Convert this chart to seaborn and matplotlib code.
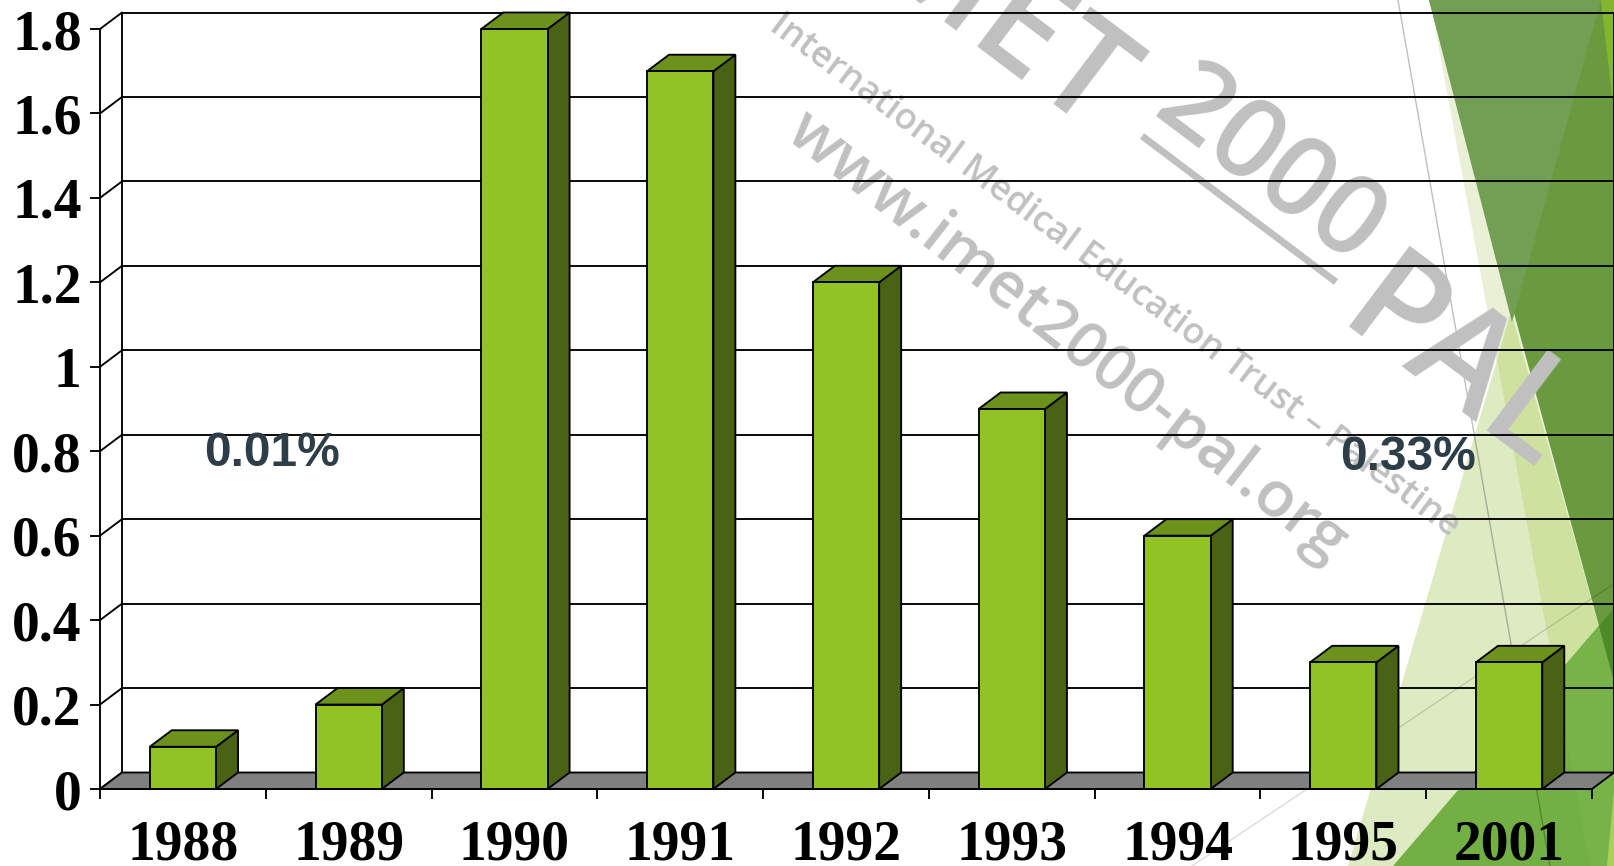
import matplotlib
matplotlib.use("Agg")
import matplotlib.pyplot as plt
import pandas as pd
import seaborn as sns
from matplotlib.patches import Polygon

years = ["1988", "1989", "1990", "1991", "1992", "1993", "1994", "1995", "2001"]
rates = [0.1, 0.2, 1.8, 1.7, 1.2, 0.9, 0.6, 0.3, 0.3]
y_ticks = [0, 0.2, 0.4, 0.6, 0.8, 1.0, 1.2, 1.4, 1.6, 1.8]
y_labels = ["0", "0.2", "0.4", "0.6", "0.8", "1", "1.2", "1.4", "1.6", "1.8"]
callouts = ["0.01%", "0.33%"]

W, H = 1615, 866
LW = 1.35
sns.set_theme(style="white")
plt.rcParams["font.family"] = ["Liberation Serif", "DejaVu Serif"]
fig = plt.figure(figsize=(W / 100, H / 100), dpi=100, facecolor="white")

# Slide backdrop, laid out in pixel units
bg = fig.add_axes([0, 0, 1, 1], zorder=0)
bg.set_xlim(0, W)
bg.set_ylim(H, 0)
bg.axis("off")

backdrop = [
    ("#E9F0D6", [(1430, 0), (1590, 866), (1615, 866), (1615, 685)]),
    ("#DEEAC2", [(1348, 866), (1511, 312), (1615, 685), (1615, 866)]),
    ("#CFE19E", [(1497, 360), (1511, 312), (1615, 685), (1615, 866), (1590, 866)]),
    ("#72B044", [(1393, 866), (1615, 607), (1615, 866)]),
    ("#77B349", [(1555, 677), (1590, 866), (1615, 866), (1615, 607)]),
    ("#A9CF5C", [(1607, 866), (1615, 866), (1615, 780)]),
    ("#6A9A3E", [(1429, 0), (1615, 0), (1615, 685)]),
    ("#729F53", [(1429, 0), (1601, 0), (1512, 322)]),
    ("#84B52F", [(1601, 0), (1615, 0), (1615, 96), (1612, 96)]),
    ("#4E8A28", [(1599, 626), (1615, 607), (1615, 685)]),
]
for colour, corners in backdrop:
    bg.add_patch(Polygon(corners, closed=True, facecolor=colour, edgecolor="none"))
bg.plot([1398, 1550], [0, 866], color="black", alpha=0.25, lw=1.0)
bg.plot([1615, 1192], [583, 866], color="black", alpha=0.14, lw=1.0)

# Diagonal watermark: the year sits raised over its rule between the two words
mark = dict(color="#C0C0C0", family="Open Sans", fontweight="semibold", rotation_mode="anchor", va="baseline")
bg.text(1089, 141, "IMET", fontsize=100, rotation=-37, ha="right", **mark)
bg.text(1352, 268, "2000", fontsize=80, rotation=-37, ha="right", **mark)
bg.text(1335, 326, "PAL", fontsize=102, rotation=-37, ha="left", **mark)
mark.pop("va")
bg.text(1114, 276, "International Medical Education Trust – Palestine", fontsize=26,
        rotation=-36.7, ha="center", va="center", **mark)
bg.text(1067, 337, "www.imet2000-pal.org", fontsize=46, rotation=-38, ha="center", va="center", **mark)
bg.plot([1142, 1336], [136, 282], color="#C0C0C0", lw=5, solid_capstyle="butt")

# Column chart with a slanted floor and back wall
ax = fig.add_axes([100 / W, (H - 789) / H, 1492 / W, 760 / H], zorder=1)
ax.patch.set_alpha(0)
frame = pd.DataFrame({"year": years, "rate": rates})
sns.barplot(data=frame, x="year", y="rate", width=0.4, color="#91C324", saturation=1,
            edgecolor="black", linewidth=LW, zorder=3, ax=ax)
ax.set_xlim(-0.5, 8.5)
ax.set_ylim(0, 1.8)
ax.set_xlabel("")
ax.set_ylabel("")

depth_x = 22 * 9 / 1492
depth_y = 16.5 * 1.8 / 760
line = dict(color="black", lw=LW, clip_on=False)
left, right = -0.5, 8.5

for v in y_ticks:
    ax.plot([left + depth_x, right + depth_x], [v + depth_y, v + depth_y], zorder=0.5, **line)
    ax.plot([left, left + depth_x], [v, v + depth_y], zorder=0.5, **line)
ax.plot([left + depth_x] * 2, [depth_y, 1.8 + depth_y], zorder=0.5, **line)
ax.plot([right + depth_x] * 2, [depth_y, 1.8 + depth_y], zorder=0.5, **line)

ax.add_patch(Polygon([(left, 0), (left + depth_x, depth_y), (right + depth_x, depth_y), (right, 0)],
                     closed=True, facecolor="#808080", edgecolor="black", lw=LW,
                     zorder=0.7, clip_on=False))

for bar in ax.patches[:len(years)]:
    x0, x1 = bar.get_x(), bar.get_x() + bar.get_width()
    top = bar.get_height()
    ax.add_patch(Polygon([(x1, 0), (x1 + depth_x, depth_y), (x1 + depth_x, top + depth_y), (x1, top)],
                         closed=True, facecolor="#4A6213", edgecolor="black", lw=LW,
                         zorder=2, clip_on=False))
    ax.add_patch(Polygon([(x0, top), (x0 + depth_x, top + depth_y), (x1 + depth_x, top + depth_y), (x1, top)],
                         closed=True, facecolor="#6D921B", edgecolor="black", lw=LW,
                         zorder=2, clip_on=False))
    bar.set_clip_on(False)

sns.despine(ax=ax, top=True, right=True)
for side in ("left", "bottom"):
    ax.spines[side].set_color("black")
    ax.spines[side].set_linewidth(LW)
    ax.spines[side].set_zorder(4)

ax.set_yticks(y_ticks, y_labels)
ax.set_xticks(range(len(years)), years)
ax.set_xticks([i - 0.5 for i in range(len(years) + 1)], minor=True)
ax.tick_params(axis="y", which="major", left=True, length=7.2, width=LW, color="black", pad=6)
ax.tick_params(axis="x", which="major", bottom=False, pad=16)
ax.tick_params(axis="x", which="minor", bottom=True, length=7.2, width=LW, color="black")
for tick in ax.get_xticklabels() + ax.get_yticklabels():
    tick.set_fontsize(40)
    tick.set_fontweight("bold")
    tick.set_color("black")
    tick.set_fontfamily("Liberation Serif")

# Percentages written across the chart
for text, px, py in zip(callouts, (272, 1408), (453, 457)):
    ax.text(px, py, text, transform=bg.transData, fontsize=34.5, fontweight="bold",
            family="Liberation Sans", color="#2D3E48", ha="center", va="center", zorder=5)

fig.savefig("out.png", dpi=100)
